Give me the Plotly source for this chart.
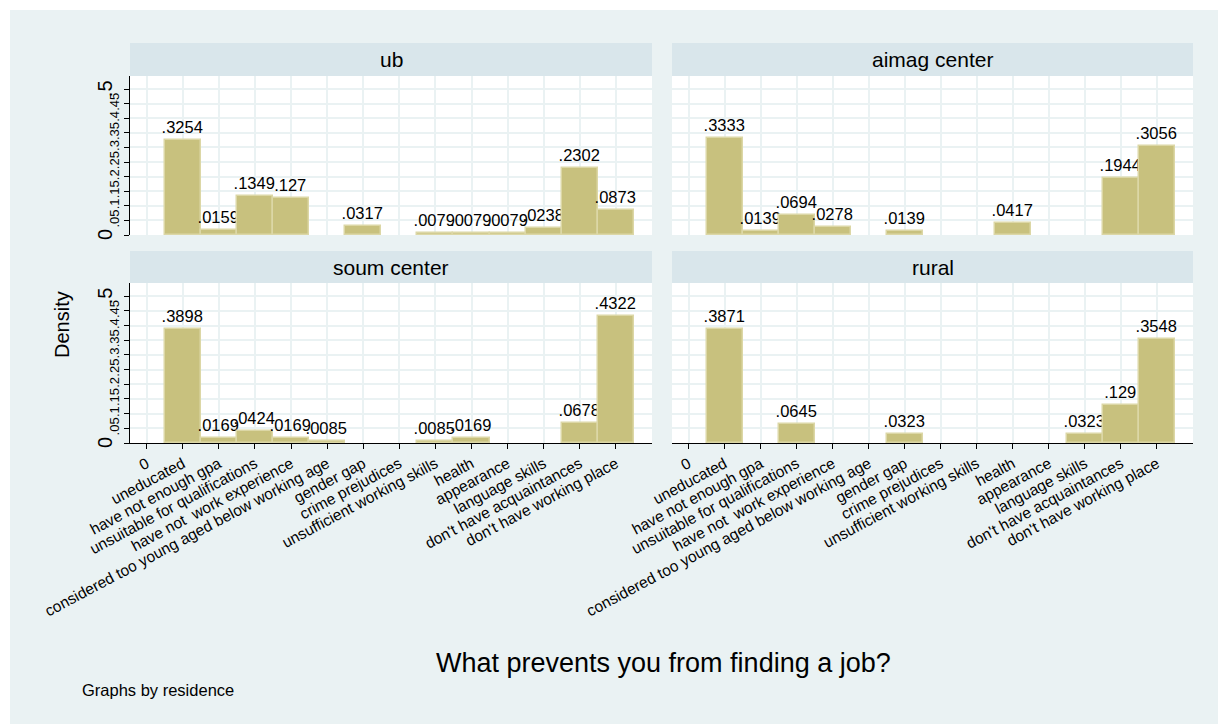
import plotly.graph_objects as go

CATEGORIES = [
    "0",
    "uneducated",
    "have not enough gpa",
    "unsuitable for qualifications",
    "have not  work experience",
    "considered too young aged below working age",
    "gender gap",
    "crime prejudices",
    "unsufficient working skills",
    "health",
    "appearance",
    "language skills",
    "don't have acquaintances",
    "don't have working place",
]

PANELS = ["ub", "aimag center", "soum center", "rural"]

UB = [0, .3254, .0159, .1349, .127, 0, .0317, 0, .0079, .0079, .0079, .0238, .2302, .0873]
AIMAG_CENTER = [0, .3333, .0139, .0694, .0278, 0, .0139, 0, 0, .0417, 0, 0, .1944, .3056]
SOUM_CENTER = [0, .3898, .0169, .0424, .0169, .0085, 0, 0, .0085, .0169, 0, 0, .0678, .4322]
RURAL = [0, .3871, 0, .0645, 0, 0, .0323, 0, 0, 0, 0, .0323, .129, .3548]

Y_TICKS = [0, .05, .1, .15, .2, .25, .3, .35, .4, .45, .5]
Y_TICK_TEXT = ["", ".05", ".1", ".15", ".2", ".25", ".3", ".35", ".4", ".45", ""]
Y_BIG_TEXT = ["0", ".5"]

FONT = "Liberation Sans, Arial, sans-serif"
BG = "#EAF2F3"
STRIP = "#D9E6EB"
BAR = "#C8C17E"
BAR_LINE = "#DCD7A6"


def fmt(v):
    s = f"{v:.4f}".rstrip("0")
    return s[1:] if s.startswith("0") else s


series = [UB, AIMAG_CENTER, SOUM_CENTER, RURAL]

# the page puts the figure 8px in from the top left, so work in page pixels
OFF = 8
W, H = 1226 - OFF, 724 - OFF


def px(x):
    return x - OFF


L, R, T, B = px(130), px(1193), px(43), px(443)
pw, ph = R - L, B - T


def fx(x):
    return (px(x) - L) / pw


def fy(y):
    return (B - px(y)) / ph


xdom = [[fx(130), fx(652)], [fx(672), fx(1193)]]
ydom_top = [fy(235), fy(76)]
ydom_bot = [fy(443), fy(283)]
strip_top = [fy(76), fy(43)]
strip_bot = [fy(283), fy(251)]

fig = go.Figure()

for i, vals in enumerate(series):
    xs = [k for k, v in enumerate(vals) if v > 0]
    ys = [vals[k] for k in xs]
    fig.add_trace(go.Bar(
        x=xs, y=ys, width=1,
        marker=dict(color=BAR, line=dict(color=BAR_LINE, width=1.5)),
        text=[fmt(v) for v in ys],
        textposition="outside",
        textfont=dict(size=16.5, color="black", family=FONT),
        constraintext="none",
        cliponaxis=False,
        xaxis=f"x{i + 1 if i else ''}",
        yaxis=f"y{i + 1 if i else ''}",
        showlegend=False,
        hoverinfo="skip",
    ))

layout = dict(
    width=W, height=H,
    margin=dict(l=L, r=W - R, t=T, b=H - B),
    paper_bgcolor=BG,
    plot_bgcolor="white",
    font=dict(family=FONT, color="black"),
    bargap=0,
)

for i in range(4):
    sfx = str(i + 1) if i else ""
    col, row = i % 2, i // 2
    bottom = row == 1
    left = col == 0
    layout["xaxis" + sfx] = dict(
        domain=xdom[col], anchor="y" + sfx,
        range=[-0.46, 14.0],
        tickvals=list(range(len(CATEGORIES))),
        ticktext=CATEGORIES,
        showticklabels=bottom,
        tickangle=-28,
        tickfont=dict(size=15.5),
        ticks="outside" if bottom else "",
        ticklen=5, tickcolor="black",
        showline=bottom, linecolor="black", linewidth=1,
        showgrid=True, gridcolor=BG, gridwidth=1.5,
        zeroline=False, fixedrange=True,
    )
    layout["yaxis" + sfx] = dict(
        domain=ydom_bot if bottom else ydom_top, anchor="x" + sfx,
        range=[0, 0.545],
        tickvals=Y_TICKS, ticktext=Y_TICK_TEXT,
        showticklabels=left,
        tickangle=-90,
        tickfont=dict(size=13),
        ticks="outside" if left else "",
        ticklen=5, tickcolor="black",
        showline=left, linecolor="black", linewidth=1,
        showgrid=True, gridcolor=BG, gridwidth=1.5,
        zeroline=False, fixedrange=True,
    )

fig.update_layout(**layout)

shapes = []
# thin white edge on top and left (page margin gives most of it)
shapes.append(dict(type="rect", xref="paper", yref="paper",
                   x0=-0.3, x1=1.3, y0=fy(10), y1=fy(0),
                   fillcolor="white", line=dict(width=0)))
shapes.append(dict(type="rect", xref="paper", yref="paper",
                   x0=fx(0), x1=fx(10), y0=-1, y1=1.3,
                   fillcolor="white", line=dict(width=0)))
annotations = []
for i, name in enumerate(PANELS):
    col, row = i % 2, i // 2
    ys = strip_bot if row else strip_top
    shapes.append(dict(type="rect", xref="paper", yref="paper",
                       x0=xdom[col][0], x1=xdom[col][1], y0=ys[0], y1=ys[1],
                       fillcolor=STRIP, line=dict(width=0)))
    annotations.append(dict(text=name, xref="paper", yref="paper",
                            x=sum(xdom[col]) / 2, y=sum(ys) / 2,
                            showarrow=False, font=dict(size=21),
                            xanchor="center", yanchor="middle"))

# large 0 / .5 labels on the left axes
for yref in ["y", "y3"]:
    for v, t in zip([Y_TICKS[0], Y_TICKS[-1]], Y_BIG_TEXT):
        annotations.append(dict(text=t, xref="paper", yref=yref,
                                x=fx(105), y=v, textangle=-90,
                                showarrow=False, font=dict(size=20),
                                xanchor="center", yanchor="middle"))

annotations.append(dict(text="Density", xref="paper", yref="paper",
                        x=fx(62), y=fy(325), textangle=-90,
                        showarrow=False, font=dict(size=20),
                        xanchor="center", yanchor="middle"))
annotations.append(dict(text="What prevents you from finding a job?",
                        xref="paper", yref="paper",
                        x=fx(663), y=fy(663),
                        showarrow=False, font=dict(size=27),
                        xanchor="center", yanchor="middle"))
annotations.append(dict(text="Graphs by residence",
                        xref="paper", yref="paper",
                        x=fx(80), y=fy(690),
                        showarrow=False, font=dict(size=16.5),
                        xanchor="left", yanchor="middle"))

fig.update_layout(shapes=shapes, annotations=annotations)

fig.write_html("out.html")
